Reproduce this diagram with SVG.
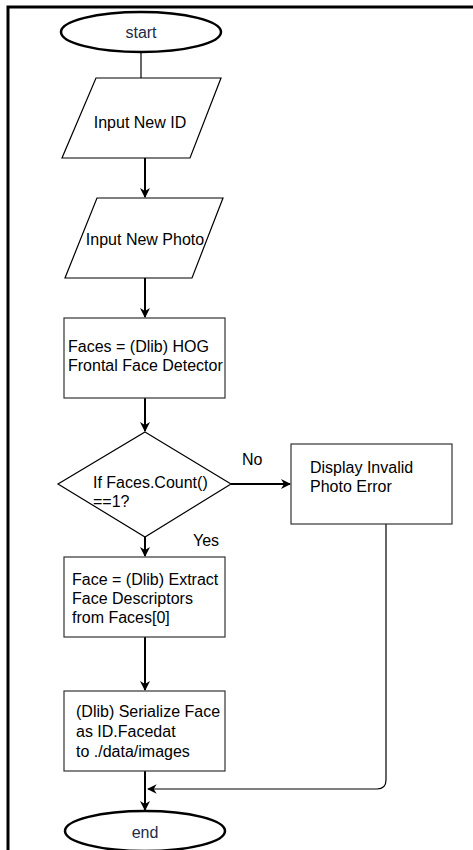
<svg xmlns="http://www.w3.org/2000/svg" width="473" height="850" viewBox="0 0 473 850">
  <style>
    .t { font-family: "Liberation Sans", Arial, sans-serif; font-size: 16px; fill: #000; }
    .term { fill: #fff; stroke: #000; stroke-width: 2.5; }
    .term-t { font-family: "Liberation Sans", Arial, sans-serif; font-size: 16px; fill: #1d2b4a; text-anchor: middle; }
    .shape { fill: #fff; stroke: #333; stroke-width: 1.2; }
    .io { fill: #fff; stroke: #000; stroke-width: 1.2; }
    .edge { fill: none; stroke: #000; stroke-width: 2; }
    .thin { fill: none; stroke: #000; stroke-width: 1.2; }
  </style>
  <defs>
    <marker id="arrow" viewBox="0 0 10 10" refX="9" refY="5" markerWidth="5" markerHeight="5" markerUnits="strokeWidth" orient="auto">
      <path d="M0,0 L10,5 L0,10 L3,5 Z" fill="#000"/>
    </marker>
    <marker id="arrowThin" viewBox="0 0 10 10" refX="9" refY="5" markerWidth="8" markerHeight="8" markerUnits="strokeWidth" orient="auto">
      <path d="M0,0 L10,5 L0,10 L3,5 Z" fill="#000"/>
    </marker>
  </defs>

  <rect width="473" height="850" fill="#fff"/>
  <!-- page frame -->
  <path d="M8,850 V7 H473" fill="none" stroke="#000" stroke-width="3"/>

  <g id="connectors">
    <line class="thin" x1="141" y1="52" x2="141" y2="78"/>
    <line class="edge" x1="145" y1="158" x2="145" y2="197" marker-end="url(#arrow)"/>
    <line class="edge" x1="145" y1="278" x2="145" y2="317" marker-end="url(#arrow)"/>
    <line class="edge" x1="145" y1="398" x2="145" y2="431" marker-end="url(#arrow)"/>
    <line class="edge" x1="231" y1="484" x2="290" y2="484" marker-end="url(#arrow)"/>
    <line class="edge" x1="145" y1="537" x2="145" y2="556" marker-end="url(#arrow)"/>
    <line class="edge" x1="145" y1="637" x2="145" y2="690" marker-end="url(#arrow)"/>
    <line class="edge" x1="145" y1="771" x2="145" y2="810" marker-end="url(#arrow)"/>
    <path class="thin" d="M386,524 V780 Q386,789 377,789 H148" marker-end="url(#arrowThin)"/>
    <text class="t" x="242" y="465">No</text>
    <text class="t" x="193" y="546">Yes</text>
  </g>

  <g id="start">
    <ellipse class="term" cx="141" cy="32" rx="80" ry="20"/>
    <text class="term-t" x="141" y="38">start</text>
  </g>

  <g id="input-id">
    <polygon class="io" points="96,78 221,78 190,158 62,158"/>
    <text class="t" x="140" y="128" text-anchor="middle">Input New ID</text>
  </g>

  <g id="input-photo">
    <polygon class="io" points="97,198 223,198 192,278 65,278"/>
    <text class="t" x="145" y="245" text-anchor="middle">Input New Photo</text>
  </g>

  <g id="detect">
    <rect class="shape" x="64" y="318" width="161" height="80"/>
    <text class="t" x="68" y="352">Faces = (Dlib) HOG</text>
    <text class="t" x="68" y="371">Frontal Face Detector</text>
  </g>

  <g id="decision">
    <polygon class="io" points="145,432 231,484 145,537 58,484"/>
    <text class="t" x="93" y="488">If Faces.Count()</text>
    <text class="t" x="93" y="507">==1?</text>
  </g>

  <g id="error">
    <rect class="shape" x="291" y="444" width="161" height="80"/>
    <text class="t" x="310" y="473">Display Invalid</text>
    <text class="t" x="310" y="492">Photo Error</text>
  </g>

  <g id="extract">
    <rect class="shape" x="64" y="557" width="161" height="80"/>
    <text class="t" x="72" y="585">Face = (Dlib) Extract</text>
    <text class="t" x="72" y="604">Face Descriptors</text>
    <text class="t" x="72" y="623">from Faces[0]</text>
  </g>

  <g id="serialize">
    <rect class="shape" x="64" y="691" width="161" height="80"/>
    <text class="t" x="76" y="717">(Dlib) Serialize Face</text>
    <text class="t" x="76" y="737">as ID.Facedat</text>
    <text class="t" x="76" y="757">to ./data/images</text>
  </g>

  <g id="end">
    <ellipse class="term" cx="145" cy="831" rx="80" ry="20"/>
    <text class="term-t" x="145" y="838">end</text>
  </g>
</svg>
